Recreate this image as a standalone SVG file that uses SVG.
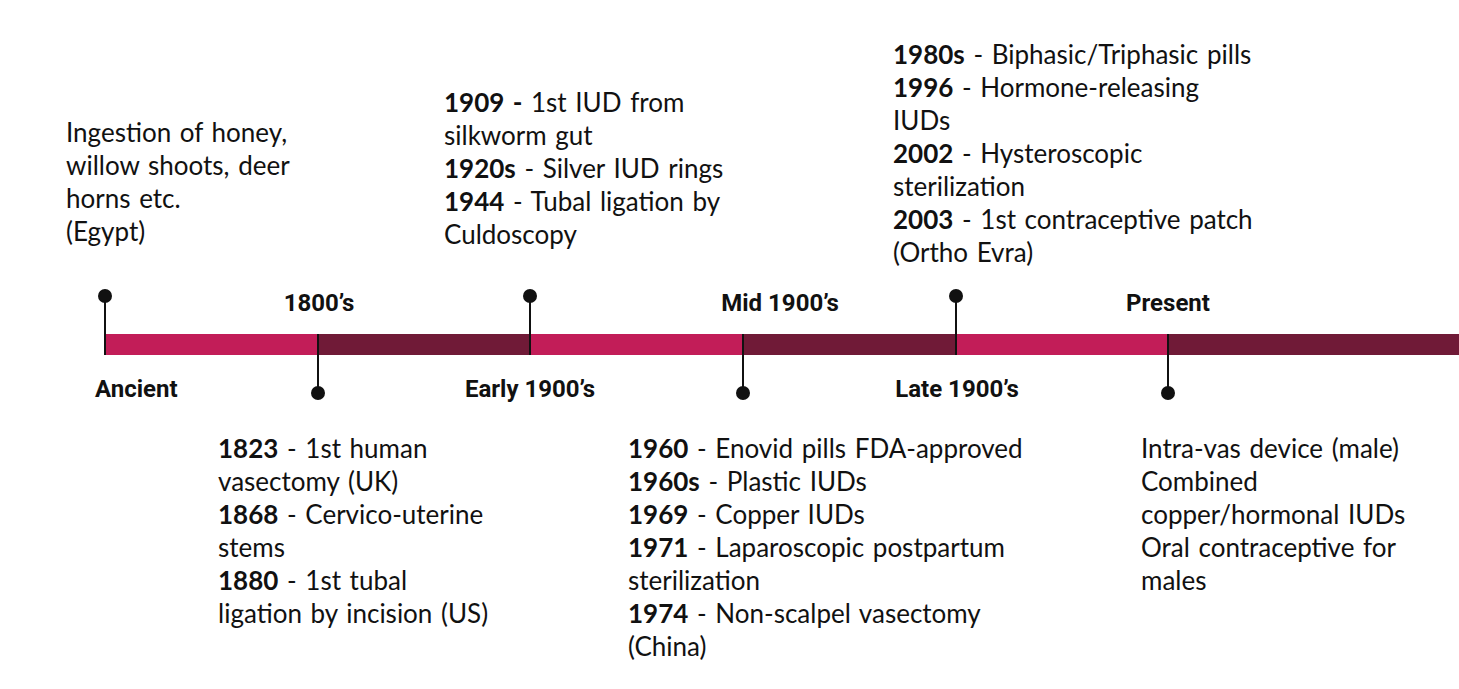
<svg xmlns="http://www.w3.org/2000/svg" width="1459" height="689" viewBox="0 0 1459 689">
<style>
.b{font-family:Lato,"Liberation Sans",sans-serif;font-size:26px;word-spacing:2px;fill:#111}
.b tspan.y{font-weight:bold}
.era{font-family:Roboto,"Liberation Sans",sans-serif;font-size:24px;font-weight:bold;fill:#111}
.pk{fill:#C21D58}
.dk{fill:#701A37}
.ln{stroke:#111;stroke-width:2}
.dot{fill:#111}
</style>
<rect width="1459" height="689" fill="#fff"/>
<g id="bar">
<rect class="pk" x="105" y="334" width="213" height="21"/>
<rect class="dk" x="318" y="334" width="212" height="21"/>
<rect class="pk" x="530" y="334" width="213" height="21"/>
<rect class="dk" x="743" y="334" width="213" height="21"/>
<rect class="pk" x="956" y="334" width="212" height="21"/>
<rect class="dk" x="1168" y="334" width="291" height="21"/>
</g>
<g id="connectors">
<line class="ln" x1="105" y1="296" x2="105" y2="355"/>
<line class="ln" x1="318" y1="334" x2="318" y2="393"/>
<line class="ln" x1="530" y1="296" x2="530" y2="355"/>
<line class="ln" x1="743" y1="334" x2="743" y2="393"/>
<line class="ln" x1="956" y1="296" x2="956" y2="355"/>
<line class="ln" x1="1168" y1="334" x2="1168" y2="393"/>
</g>
<g id="ancient">
<circle class="dot" cx="105" cy="296" r="7"/>
<text class="era" x="95" y="397">Ancient</text>
<text class="b" x="66" y="142">Ingestion of honey,</text>
<text class="b" x="66" y="175">willow shoots, deer</text>
<text class="b" x="66" y="208">horns etc.</text>
<text class="b" x="66" y="241">(Egypt)</text>
</g>
<g id="e1800s">
<circle class="dot" cx="318" cy="393" r="7"/>
<text class="era" x="319" y="311" text-anchor="middle">1800’s</text>
<text class="b" x="218" y="458"><tspan class="y">1823</tspan> - 1st human</text>
<text class="b" x="218" y="491">vasectomy (UK)</text>
<text class="b" x="218" y="524"><tspan class="y">1868</tspan> - Cervico-uterine</text>
<text class="b" x="218" y="557">stems</text>
<text class="b" x="218" y="590"><tspan class="y">1880</tspan> - 1st tubal</text>
<text class="b" x="218" y="623">ligation by incision (US)</text>
</g>
<g id="early1900s">
<circle class="dot" cx="530" cy="296" r="7"/>
<text class="era" x="530" y="397" text-anchor="middle">Early 1900’s</text>
<text class="b" x="444" y="112"><tspan class="y">1909 -</tspan> 1st IUD from</text>
<text class="b" x="444" y="145">silkworm gut</text>
<text class="b" x="444" y="178"><tspan class="y">1920s</tspan> - Silver IUD rings</text>
<text class="b" x="444" y="211"><tspan class="y">1944</tspan> - Tubal ligation by</text>
<text class="b" x="444" y="244">Culdoscopy</text>
</g>
<g id="mid1900s">
<circle class="dot" cx="743" cy="393" r="7"/>
<text class="era" x="780" y="311" text-anchor="middle">Mid 1900’s</text>
<text class="b" x="628" y="458"><tspan class="y">1960</tspan> - Enovid pills FDA-approved</text>
<text class="b" x="628" y="491"><tspan class="y">1960s</tspan> - Plastic IUDs</text>
<text class="b" x="628" y="524"><tspan class="y">1969</tspan> - Copper IUDs</text>
<text class="b" x="628" y="557"><tspan class="y">1971</tspan> - Laparoscopic postpartum</text>
<text class="b" x="628" y="590">sterilization</text>
<text class="b" x="628" y="623"><tspan class="y">1974</tspan> - Non-scalpel vasectomy</text>
<text class="b" x="628" y="656">(China)</text>
</g>
<g id="late1900s">
<circle class="dot" cx="956" cy="296" r="7"/>
<text class="era" x="957" y="397" text-anchor="middle">Late 1900’s</text>
<text class="b" x="893" y="64"><tspan class="y">1980s</tspan> - Biphasic/Triphasic pills</text>
<text class="b" x="893" y="97"><tspan class="y">1996</tspan> - Hormone-releasing</text>
<text class="b" x="893" y="130">IUDs</text>
<text class="b" x="893" y="163"><tspan class="y">2002</tspan> - Hysteroscopic</text>
<text class="b" x="893" y="196">sterilization</text>
<text class="b" x="893" y="229"><tspan class="y">2003</tspan> - 1st contraceptive patch</text>
<text class="b" x="893" y="262">(Ortho Evra)</text>
</g>
<g id="present">
<circle class="dot" cx="1168" cy="393" r="7"/>
<text class="era" x="1168" y="311" text-anchor="middle">Present</text>
<text class="b" x="1141" y="458">Intra-vas device (male)</text>
<text class="b" x="1141" y="491">Combined</text>
<text class="b" x="1141" y="524">copper/hormonal IUDs</text>
<text class="b" x="1141" y="557">Oral contraceptive for</text>
<text class="b" x="1141" y="590">males</text>
</g>
</svg>
